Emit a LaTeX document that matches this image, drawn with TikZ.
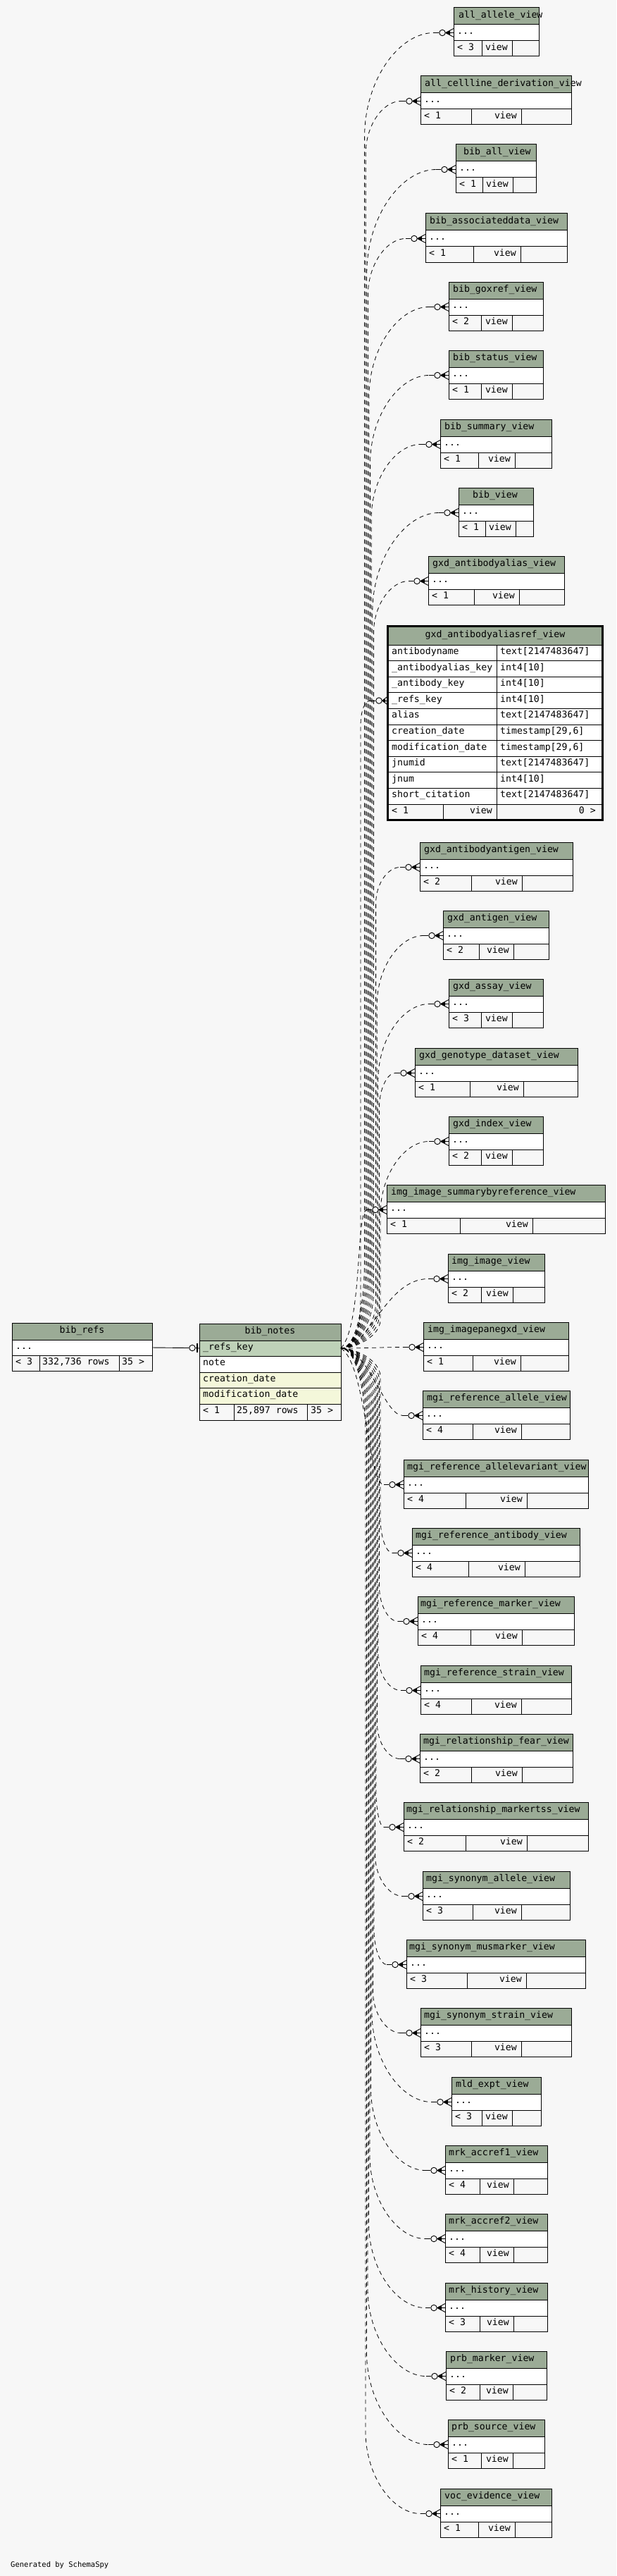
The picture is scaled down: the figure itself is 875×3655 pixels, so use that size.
\documentclass[tikz,border=0pt]{standalone}
\usepackage{fontspec}
\setmonofont{DejaVu Sans Mono}
\usetikzlibrary{calc}
\definecolor{bgc}{HTML}{F7F7F7}
\definecolor{hdrc}{HTML}{9BAB96}
\definecolor{keyc}{HTML}{BED1B8}
\definecolor{idxc}{HTML}{F4F7DA}
\tikzset{
  box/.style={draw=black, line width=1pt, inner sep=0pt, outer sep=0pt, anchor=north west},
  hdrbox/.style={box, fill=hdrc, minimum height=24pt},
  rowbox/.style={box, fill=white, minimum height=23pt},
  footbox/.style={box, fill=bgc, minimum height=22pt},
  txt/.style={inner sep=0pt, font=\ttfamily\fontsize{13.2}{15}\selectfont},
  ltxt/.style={txt, anchor=mid west},
  rtxt/.style={txt, anchor=mid east},
  ctxt/.style={txt, anchor=mid},
  rel/.style={draw=black, line width=0.8pt, dash pattern=on 6pt off 5pt},
  relsolid/.style={draw=black, line width=0.9pt},
  odot/.style={circle, draw=black, fill=bgc, line width=0.9pt, minimum size=8.5pt, inner sep=0pt},
}
% view table: id, L, R, top, title, title x, n, split1, split2
\newcommand\vtbl[9]{%
  \node[hdrbox, minimum width={#3-#2}] (#1-h) at (#2,#4) {};
  \node[ltxt] (#1-ht) at (#6,#4+12) {#5};
  \node[rowbox, minimum width={#3-#2}] (#1-r) at (#2,#4+24) {};
  \node[ltxt] (#1-rt) at (#2+5,#4+35.5) {...};
  \node[footbox, minimum width={#8-#2}] (#1-f1) at (#2,#4+47) {};
  \node[footbox, minimum width={#9-#8}] (#1-f2) at (#8,#4+47) {};
  \node[footbox, minimum width={#3-#9}] (#1-f3) at (#9,#4+47) {};
  \node[ltxt] (#1-n) at (#2+5,#4+58) {< #7};
  \node[rtxt] (#1-v) at (#9-6,#4+58) {view};
}
% end of a relation: circle and crow's foot
\newcommand\crowend[3]{%
  \node[odot] (#1-o) at (#2-16,#3) {};
  \draw[relsolid] (#1-p) -- (#1-o.west);
  \draw[relsolid] (#1-o.east) -- (#1-r.west);
  \draw[relsolid] (#2-11.5,#3) -- (#2,#3-6) (#2-11.5,#3) -- (#2,#3+6);
  \fill (#2-11.5,#3) -- (#2-5,#3-3) -- (#2-5,#3+3) -- cycle;
}
% far connector: id, L, top, vertical x, sign
\newcommand\farconn[5]{%
  \pgfmathsetmacro\cy{#3+35.5}%
  \pgfmathsetmacro\px{#2-28}%
  \pgfmathsetmacro\hh{max(50,min(180,1.5*(\px-#4)))}%
  \pgfmathsetmacro\ya{1913+(#5)*(18+(540-#4)*2)}%
  \pgfmathsetmacro\yb{1913+(#5)*(40+(540-#4)*4)}%
  \pgfmathsetmacro\yc{\cy-(#5)*\hh}%
  \pgfmathsetmacro\yd{\cy-(#5)*\hh*0.45}%
  \pgfmathsetmacro\xe{#4+0.5*(\px-#4)}%
  \pgfmathsetmacro\dph{mod((540-#4)*7,11)}%
  \coordinate (#1-p) at (\px,\cy);
  \draw[rel, dash phase=\dph pt] (notes-k.east) .. controls (506,1913) and (#4,\ya) .. (#4,\yb) -- (#4,\yc) .. controls (#4,\yd) and (\xe,\cy) .. (#1-p);
  \crowend{#1}{#2}{\cy}%
}
% near connector: id, L, top, control1, control2
\newcommand\nearconn[5]{%
  \pgfmathsetmacro\cy{#3+35.5}%
  \pgfmathsetmacro\px{#2-28}%
  \coordinate (#1-p) at (\px,\cy);
  \draw[rel] (notes-k.east) .. controls #4 and #5 .. (#1-p);
  \crowend{#1}{#2}{\cy}%
}
% row of the big table: i, top, name, type
\newcommand\brow[4]{%
  \node[box, fill=white, minimum width=154.5pt, minimum height=22.6pt] (t10-a#1) at (550.5,#2) {};
  \node[box, fill=white, minimum width=150.5pt, minimum height=22.6pt] (t10-b#1) at (705,#2) {};
  \node[ltxt] (t10-at#1) at (556,#2+11.3) {#3};
  \node[ltxt] (t10-bt#1) at (710,#2+11.3) {#4};
}
\begin{document}
\begin{tikzpicture}[x=1pt,y=-1pt]
\fill[bgc] (0,0) rectangle (875,3655);
\useasboundingbox (0,0) rectangle (875,3655);

% ---- bib_refs ----
\node[hdrbox, minimum width=199pt] (refs-h) at (17,1877) {};
\node[ctxt] (refs-ht) at (116.5,1889) {bib\_refs};
\node[rowbox, minimum width=199pt, minimum height=22pt] (refs-r) at (17,1901) {};
\node[ltxt] (refs-rt) at (22,1912) {...};
\node[footbox, minimum width=39pt] (refs-f1) at (17,1923) {};
\node[footbox, minimum width=113pt] (refs-f2) at (56,1923) {};
\node[footbox, minimum width=47pt] (refs-f3) at (169,1923) {};
\node[ltxt] (refs-n) at (22,1934) {< 3};
\node[ltxt] (refs-c) at (60,1934) {332,736 rows};
\node[ltxt] (refs-m) at (173,1934) {35 >};

% ---- bib_notes ----
\node[hdrbox, minimum width=201pt] (notes-h) at (283,1878) {};
\node[ctxt] (notes-ht) at (383.5,1890) {bib\_notes};
\node[box, fill=keyc, minimum width=201pt, minimum height=22pt] (notes-k) at (283,1902) {};
\node[ltxt] (notes-kt) at (288,1913) {\_refs\_key};
\node[box, fill=white, minimum width=201pt, minimum height=23pt] (notes-n) at (283,1924) {};
\node[ltxt] (notes-nt) at (288,1935.5) {note};
\node[box, fill=idxc, minimum width=201pt, minimum height=22pt] (notes-c) at (283,1947) {};
\node[ltxt] (notes-ct) at (288,1958) {creation\_date};
\node[box, fill=idxc, minimum width=201pt, minimum height=23pt] (notes-m) at (283,1969) {};
\node[ltxt] (notes-mt) at (288,1980.5) {modification\_date};
\node[footbox, minimum width=49pt, minimum height=23pt] (notes-f1) at (283,1992) {};
\node[footbox, minimum width=104pt, minimum height=23pt] (notes-f2) at (332,1992) {};
\node[footbox, minimum width=48pt, minimum height=23pt] (notes-f3) at (436,1992) {};
\node[ltxt] (notes-fn) at (288,2003.5) {< 1};
\node[ltxt] (notes-fc) at (336,2003.5) {25,897 rows};
\node[ltxt] (notes-fm) at (441,2003.5) {35 >};

% bib_refs -> bib_notes
\node[odot] (rn-o) at (273,1912.5) {};
\draw[relsolid] (refs-r.east) -- (rn-o.west);
\draw[relsolid] (rn-o.east) -- (notes-k.west);
\draw[line width=2pt] (279.5,1906) -- (279.5,1919);

% ---- view tables ----
\vtbl{t01}{644}{765}{11}{all\_allele\_view}{651}{3}{684}{727}
\vtbl{t02}{597}{811}{108}{all\_cellline\_derivation\_view}{603}{1}{669}{740}
\vtbl{t03}{647}{761}{205}{bib\_all\_view}{658}{1}{685}{728}
\vtbl{t04}{604}{805}{303}{bib\_associateddata\_view}{610}{1}{672}{739}
\vtbl{t05}{637}{771}{400}{bib\_goxref\_view}{643}{2}{683}{727}
\vtbl{t06}{637}{771}{497}{bib\_status\_view}{643}{1}{683}{727}
\vtbl{t07}{625}{783}{595}{bib\_summary\_view}{631}{1}{679}{731}
\vtbl{t08}{651}{757}{692}{bib\_view}{671}{1}{689}{732}
\vtbl{t09}{608}{801}{789}{gxd\_antibodyalias\_view}{614}{1}{673}{737}
\vtbl{t11}{596}{813}{1195}{gxd\_antibodyantigen\_view}{602}{2}{669}{741}
\vtbl{t12}{629}{779}{1292}{gxd\_antigen\_view}{635}{2}{680}{729}
\vtbl{t13}{637}{771}{1389}{gxd\_assay\_view}{643}{3}{683}{727}
\vtbl{t14}{589}{820}{1487}{gxd\_genotype\_dataset\_view}{595}{1}{667}{743}
\vtbl{t15}{637}{771}{1584}{gxd\_index\_view}{643}{2}{683}{727}
\vtbl{t16}{549}{859}{1681}{img\_image\_summarybyreference\_view}{555}{1}{653}{756}
\vtbl{t17}{636}{773}{1779}{img\_image\_view}{641}{2}{683}{728}
\vtbl{t18}{601}{807}{1876}{img\_imagepanegxd\_view}{607}{1}{671}{739}
\vtbl{t19}{600}{809}{1973}{mgi\_reference\_allele\_view}{606}{4}{671}{740}
\vtbl{t20}{573}{835}{2071}{mgi\_reference\_allelevariant\_view}{578}{4}{661}{748}
\vtbl{t21}{585}{823}{2168}{mgi\_reference\_antibody\_view}{590}{4}{665}{745}
\vtbl{t22}{593}{815}{2265}{mgi\_reference\_marker\_view}{597}{4}{668}{741}
\vtbl{t23}{597}{811}{2363}{mgi\_reference\_strain\_view}{602}{4}{669}{740}
\vtbl{t24}{596}{813}{2460}{mgi\_relationship\_fear\_view}{601}{2}{669}{741}
\vtbl{t25}{573}{835}{2557}{mgi\_relationship\_markertss\_view}{577}{2}{661}{748}
\vtbl{t26}{600}{809}{2655}{mgi\_synonym\_allele\_view}{605}{3}{671}{740}
\vtbl{t27}{577}{831}{2752}{mgi\_synonym\_musmarker\_view}{581}{3}{663}{747}
\vtbl{t28}{597}{811}{2849}{mgi\_synonym\_strain\_view}{602}{3}{669}{740}
\vtbl{t29}{641}{768}{2947}{mld\_expt\_view}{647}{3}{684}{727}
\vtbl{t30}{632}{777}{3044}{mrk\_accref1\_view}{637}{4}{681}{729}
\vtbl{t31}{632}{777}{3141}{mrk\_accref2\_view}{637}{4}{681}{729}
\vtbl{t32}{632}{777}{3239}{mrk\_history\_view}{637}{3}{681}{729}
\vtbl{t33}{633}{776}{3336}{prb\_marker\_view}{639}{2}{681}{728}
\vtbl{t34}{636}{773}{3433}{prb\_source\_view}{641}{1}{683}{728}
\vtbl{t35}{625}{783}{3531}{voc\_evidence\_view}{631}{1}{679}{731}

% ---- gxd_antibodyaliasref_view ----
\node[hdrbox, minimum width=305pt, minimum height=26.5pt] (t10-h) at (550.5,888.5) {};
\node[ctxt] (t10-ht) at (703,902) {gxd\_antibodyaliasref\_view};
\brow{1}{915}{antibodyname}{text[2147483647]}
\brow{2}{937.6}{\_antibodyalias\_key}{int4[10]}
\brow{3}{960.2}{\_antibody\_key}{int4[10]}
\brow{4}{982.8}{\_refs\_key}{int4[10]}
\brow{5}{1005.4}{alias}{text[2147483647]}
\brow{6}{1028}{creation\_date}{timestamp[29,6]}
\brow{7}{1050.6}{modification\_date}{timestamp[29,6]}
\brow{8}{1073.2}{jnumid}{text[2147483647]}
\brow{9}{1095.8}{jnum}{int4[10]}
\brow{10}{1118.4}{short\_citation}{text[2147483647]}
\node[footbox, minimum width=78.5pt, minimum height=22.5pt] (t10-f1) at (550.5,1141) {};
\node[footbox, minimum width=76pt, minimum height=22.5pt] (t10-f2) at (629,1141) {};
\node[footbox, minimum width=150.5pt, minimum height=22.5pt] (t10-f3) at (705,1141) {};
\node[ltxt] (t10-n) at (556,1152.3) {< 1};
\node[rtxt] (t10-v) at (699,1152.3) {view};
\node[rtxt] (t10-m) at (846,1152.3) {0 >};
\draw[line width=3pt] (550.5,888.5) rectangle (855.5,1163.5);

% ---- connectors from bib_notes ----
% above
\farconn{t15}{637}{1584}{540}{-1}
\farconn{t14}{589}{1487}{538.4}{-1}
\farconn{t13}{637}{1389}{536.8}{-1}
\farconn{t12}{629}{1292}{535.2}{-1}
\farconn{t11}{596}{1195}{533.6}{-1}
\farconn{t09}{608}{789}{530.4}{-1}
\farconn{t08}{651}{692}{528.8}{-1}
\farconn{t07}{625}{595}{527.2}{-1}
\farconn{t06}{637}{497}{525.6}{-1}
\farconn{t05}{637}{400}{524}{-1}
\farconn{t04}{604}{303}{522.4}{-1}
\farconn{t03}{647}{205}{520.8}{-1}
\farconn{t02}{597}{108}{519.2}{-1}
\farconn{t01}{644}{11}{517.6}{-1}
% big table
\coordinate (t10-p) at (526,994.1);
\draw[rel, dash phase=3pt] (notes-k.east) .. controls (506,1913) and (512,1880) .. (512,1840) -- (512,1030) .. controls (512,1008) and (518,994.1) .. (t10-p);
\node[odot] (t10-o) at (538,994.1) {};
\draw[relsolid] (t10-p) -- (t10-o.west);
\draw[relsolid] (t10-o.east) -- (t10-a4.west);
\draw[relsolid] (542.5,994.1) -- (550.5,988.1) (542.5,994.1) -- (550.5,1000.1);
\fill (542.5,994.1) -- (547,991.6) -- (547,996.6) -- cycle;
% near
\nearconn{t16}{549}{1681}{(515,1880)}{(505,1716.5)}
\nearconn{t17}{636}{1779}{(524,1913)}{(548,1814.5)}
\nearconn{t18}{601}{1876}{(520,1913)}{(540,1911.5)}
\nearconn{t19}{600}{1973}{(524,1913)}{(545,2008.5)}
\nearconn{t20}{573}{2071}{(520,1935)}{(522,2106.5)}
% below
\farconn{t21}{585}{2168}{540}{1}
\farconn{t22}{593}{2265}{538.5}{1}
\farconn{t23}{597}{2363}{537}{1}
\farconn{t24}{596}{2460}{535.5}{1}
\farconn{t25}{573}{2557}{534}{1}
\farconn{t26}{600}{2655}{532.5}{1}
\farconn{t27}{577}{2752}{531}{1}
\farconn{t28}{597}{2849}{529.5}{1}
\farconn{t29}{641}{2947}{528}{1}
\farconn{t30}{632}{3044}{526.5}{1}
\farconn{t31}{632}{3141}{525}{1}
\farconn{t32}{632}{3239}{523.5}{1}
\farconn{t33}{633}{3336}{522}{1}
\farconn{t34}{636}{3433}{520.5}{1}
\farconn{t35}{625}{3531}{519}{1}

\node[txt, font=\ttfamily\fontsize{10.5}{12}\selectfont, anchor=mid west] (gen) at (15,3640) {Generated by SchemaSpy};
\end{tikzpicture}
\end{document}
